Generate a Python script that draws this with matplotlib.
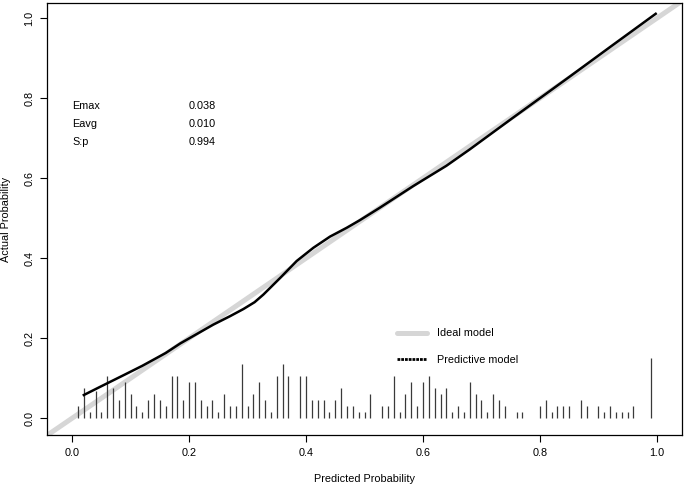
import matplotlib
matplotlib.use("Agg")
import matplotlib.pyplot as plt
from matplotlib.lines import Line2D

plt.rcParams['font.family'] = ['Liberation Sans', 'DejaVu Sans']

# Calibration curve (predictive model)
pred_x = [0.02, 0.05, 0.09, 0.12, 0.16, 0.185, 0.2415, 0.27, 0.293, 0.312, 0.327, 0.356,
          0.384, 0.4125, 0.441, 0.4695, 0.492, 0.526, 0.583, 0.640, 0.680,
          0.75, 0.85, 0.92, 0.998]
pred_y = [0.058, 0.080, 0.109, 0.131, 0.163, 0.187, 0.234, 0.255, 0.273, 0.290, 0.309, 0.351,
          0.393, 0.426, 0.454, 0.476, 0.495, 0.526, 0.580, 0.631, 0.672,
          0.747, 0.853, 0.928, 1.011]

# Spike histogram of predicted probabilities
rug_x = [0.01, 0.02, 0.03, 0.04, 0.05, 0.06, 0.07, 0.08, 0.09, 0.10,
         0.11, 0.12, 0.13, 0.14, 0.15, 0.16, 0.17, 0.18, 0.19, 0.20,
         0.21, 0.22, 0.23, 0.24, 0.25, 0.26, 0.27, 0.28, 0.29, 0.30,
         0.31, 0.32, 0.33, 0.34, 0.35, 0.36, 0.37, 0.39, 0.40,
         0.41, 0.42, 0.43, 0.44, 0.45, 0.46, 0.47, 0.48, 0.49, 0.50,
         0.51, 0.53, 0.54, 0.55, 0.56, 0.57, 0.58, 0.59, 0.60,
         0.61, 0.62, 0.63, 0.64, 0.65, 0.66, 0.67, 0.68, 0.69, 0.70,
         0.71, 0.72, 0.73, 0.74, 0.76, 0.77, 0.80,
         0.81, 0.82, 0.83, 0.84, 0.85, 0.87, 0.88, 0.90,
         0.91, 0.92, 0.93, 0.94, 0.95, 0.96, 0.99]
rug_h = [0.03, 0.075, 0.015, 0.068, 0.015, 0.105, 0.075, 0.045, 0.09, 0.06,
         0.03, 0.015, 0.045, 0.06, 0.045, 0.03, 0.105, 0.105, 0.045, 0.09,
         0.09, 0.045, 0.03, 0.045, 0.015, 0.06, 0.03, 0.03, 0.135, 0.03,
         0.06, 0.09, 0.045, 0.015, 0.105, 0.135, 0.105, 0.105, 0.105,
         0.045, 0.045, 0.045, 0.015, 0.045, 0.075, 0.03, 0.03, 0.015, 0.015,
         0.06, 0.03, 0.03, 0.105, 0.015, 0.06, 0.09, 0.03, 0.09,
         0.105, 0.075, 0.06, 0.075, 0.015, 0.03, 0.015, 0.09, 0.06, 0.045,
         0.015, 0.06, 0.045, 0.03, 0.015, 0.015, 0.03,
         0.045, 0.015, 0.03, 0.03, 0.03, 0.045, 0.03, 0.03,
         0.015, 0.03, 0.015, 0.015, 0.015, 0.03, 0.15]

stat_labels = ["Emax", "Eavg", "S:p"]
stat_values = ["0.038", "0.010", "0.994"]
stat_y = [0.781, 0.736, 0.690]

xticks = [0.0, 0.2, 0.4, 0.6, 0.8, 1.0]
yticks = [0.0, 0.2, 0.4, 0.6, 0.8, 1.0]

FS = 7.8
fig = plt.figure(figsize=(6.85, 4.86), dpi=100)
ax = fig.add_axes([47/685, 1 - 435/486, 635/685, 432/486])

ax.set_xlim(-0.043, 1.043)
ax.set_ylim(-0.042, 1.038)

# Ideal line
ax.axline((0, 0), (1, 1), color='#d6d6d6', lw=3.6, solid_capstyle='round', zorder=1)
# Rug spikes
ax.vlines(rug_x, 0, rug_h, colors='#3a3a3a', lw=0.9, zorder=2)
# Predictive model
ax.plot(pred_x, pred_y, color='black', lw=1.8, zorder=3)

for lab, val, yy in zip(stat_labels, stat_values, stat_y):
    ax.text(0.0, yy, lab, fontsize=FS, ha='left', va='center')
    ax.text(0.199, yy, val, fontsize=FS, ha='left', va='center')

handles = [Line2D([], [], color='#d6d6d6', lw=3.6, solid_capstyle='round'),
           Line2D([], [], color='black', lw=2.0, linestyle=(0, (1.0, 0.35)))]
ax.legend(handles, ["Ideal model", "Predictive model"], loc='upper left',
          bbox_to_anchor=(0.5507, 0.2468), frameon=False, fontsize=FS,
          borderpad=0, borderaxespad=0, handlelength=2.78, handletextpad=0.95,
          labelspacing=1.55)

ax.set_xticks(xticks)
ax.set_yticks(yticks)
ax.set_xticklabels([f"{t:.1f}" for t in xticks])
ax.set_yticklabels([f"{t:.1f}" for t in yticks], rotation=90, va='center')
ax.tick_params(axis='both', labelsize=FS, length=5, width=0.8, direction='out')
ax.tick_params(axis='x', pad=4)
ax.tick_params(axis='y', pad=4)
for s in ax.spines.values():
    s.set_linewidth(0.9)

ax.set_xlabel("Predicted Probability", fontsize=FS, va='center')
ax.xaxis.set_label_coords(0.5, (435 - 479) / 432)
ax.set_ylabel("Actual Probability", fontsize=FS, va='center')
ax.yaxis.set_label_coords((6 - 47) / 635, 0.5)

fig.savefig("out.png", dpi=100)
